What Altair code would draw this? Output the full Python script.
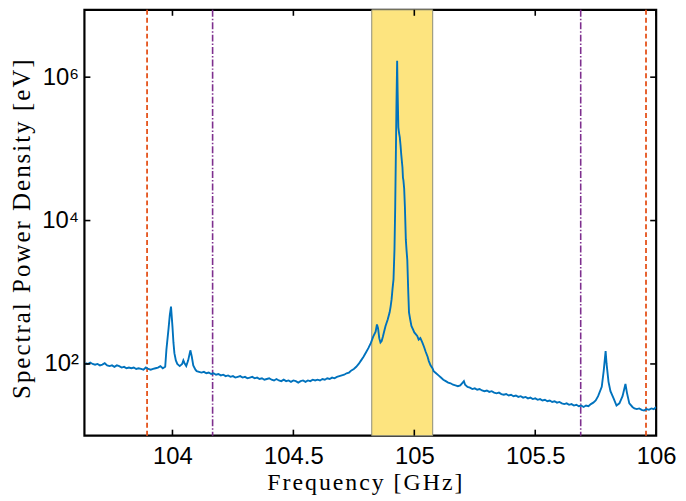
import altair as alt
import pandas as pd

# ---- spectrum (frequency in GHz, log10 of spectral power density in eV) ----
freq_ghz = [
    103.64, 103.65, 103.66, 103.67, 103.68, 103.69, 103.70, 103.71, 103.72, 103.73,
    103.74, 103.75, 103.76, 103.77, 103.78, 103.79, 103.80, 103.81, 103.82, 103.83,
    103.84, 103.85, 103.86, 103.87, 103.88, 103.89, 103.90, 103.91, 103.92, 103.93,
    103.94, 103.95, 103.96, 103.97,
    103.975, 103.984, 103.989, 103.994, 104.000, 104.004, 104.008, 104.014, 104.020, 104.030,
    104.040, 104.045, 104.050, 104.057, 104.065, 104.074, 104.080, 104.086, 104.095,
    104.10, 104.11, 104.12, 104.13, 104.14, 104.15, 104.16, 104.17, 104.18, 104.19,
    104.20, 104.21, 104.22, 104.23, 104.24, 104.25, 104.26, 104.27, 104.28, 104.29,
    104.30, 104.31, 104.32, 104.33, 104.34, 104.35, 104.36, 104.37, 104.38, 104.39,
    104.40, 104.41, 104.42, 104.43, 104.44, 104.45, 104.46, 104.47, 104.48, 104.49,
    104.50, 104.51, 104.52, 104.53, 104.54, 104.55, 104.56, 104.57, 104.58, 104.59,
    104.60, 104.61, 104.62, 104.63, 104.64, 104.65, 104.66, 104.67, 104.68, 104.69,
    104.70, 104.71, 104.72, 104.73, 104.74, 104.75, 104.76, 104.77,
    104.78, 104.79, 104.80, 104.81, 104.82, 104.83, 104.84, 104.8455, 104.85, 104.855,
    104.86, 104.865, 104.87, 104.875, 104.881, 104.89, 104.898, 104.902, 104.906, 104.91,
    104.914, 104.918, 104.921, 104.924, 104.926, 104.929, 104.931, 104.934, 104.937, 104.940,
    104.943, 104.946, 104.951, 104.953, 104.955, 104.958, 104.961, 104.965, 104.968, 104.971,
    104.975, 104.978, 104.983, 104.988, 104.995, 105.000, 105.005, 105.012, 105.018, 105.025,
    105.033, 105.040, 105.047, 105.055, 105.060, 105.067, 105.075, 105.080, 105.090,
    105.10, 105.11, 105.12, 105.13, 105.14, 105.15, 105.16, 105.17, 105.18, 105.19,
    105.20, 105.205, 105.21, 105.22, 105.23, 105.24, 105.25, 105.26, 105.27, 105.28, 105.29,
    105.30, 105.31, 105.32, 105.33, 105.34, 105.35, 105.36, 105.37, 105.38, 105.39,
    105.40, 105.41, 105.42, 105.43, 105.44, 105.45, 105.46, 105.47, 105.48, 105.49,
    105.50, 105.51, 105.52, 105.53, 105.54, 105.55, 105.56, 105.57, 105.58, 105.59,
    105.60, 105.61, 105.62, 105.63, 105.64, 105.65, 105.66, 105.67, 105.68, 105.69,
    105.70, 105.71, 105.72, 105.73, 105.74,
    105.75, 105.76, 105.775, 105.783, 105.791, 105.795, 105.803, 105.811, 105.824, 105.836,
    105.848, 105.861, 105.873, 105.879, 105.889, 105.902, 105.91, 105.92, 105.93, 105.94,
    105.95, 105.96, 105.97, 105.98, 105.99, 106.00,
]
log10_psd = [
    2.01, 2.00, 2.02, 2.00, 1.99, 2.00, 1.98, 1.99, 2.01, 1.98,
    1.97, 1.98, 1.96, 1.98, 1.97, 1.95, 1.96, 1.94, 1.95, 1.94,
    1.95, 1.93, 1.94, 1.93, 1.92, 1.95, 1.93, 1.92, 1.93, 1.94,
    1.95, 1.97, 1.94, 1.96,
    2.20, 2.50, 2.68, 2.80, 2.52, 2.30, 2.15, 2.05, 2.00, 1.97,
    2.00, 2.05, 2.01, 1.97, 2.05, 2.19, 2.10, 1.98, 1.92,
    1.90, 1.89, 1.88, 1.89, 1.87, 1.88, 1.86, 1.87, 1.85, 1.86,
    1.84, 1.85, 1.83, 1.84, 1.82, 1.83, 1.81, 1.82, 1.83, 1.81,
    1.82, 1.80, 1.81, 1.82, 1.80, 1.81, 1.79, 1.80, 1.78, 1.79,
    1.80, 1.78, 1.77, 1.79, 1.77, 1.76, 1.78, 1.76, 1.77, 1.75,
    1.77, 1.76, 1.74, 1.76, 1.77, 1.75, 1.77, 1.76, 1.78, 1.77,
    1.78, 1.77, 1.79, 1.78, 1.80, 1.79, 1.81, 1.80, 1.82, 1.83,
    1.84, 1.85, 1.87, 1.88, 1.91, 1.93, 1.96, 2.00,
    2.05, 2.10, 2.16, 2.22, 2.29, 2.38, 2.45, 2.55, 2.50, 2.36,
    2.30, 2.32, 2.38, 2.45, 2.53, 2.62, 2.72, 2.80, 2.90, 3.05,
    3.18, 3.60, 4.19, 5.00, 5.57, 6.23, 5.80, 5.30, 5.22, 5.16,
    5.05, 4.92, 4.74, 4.60, 4.56, 4.45, 4.20, 3.73, 3.58, 3.45,
    3.00, 2.72, 2.62, 2.53, 2.48, 2.44, 2.42, 2.39, 2.34, 2.36,
    2.30, 2.24, 2.17, 2.10, 2.04, 1.98, 1.94, 1.90, 1.87,
    1.84, 1.81, 1.78, 1.76, 1.74, 1.73, 1.71, 1.70, 1.69, 1.70,
    1.74, 1.76, 1.71, 1.68, 1.67, 1.65, 1.66, 1.64, 1.65, 1.63, 1.62,
    1.63, 1.61, 1.62, 1.60, 1.59, 1.60, 1.58, 1.57, 1.58, 1.56,
    1.57, 1.55, 1.56, 1.54, 1.55, 1.53, 1.54, 1.52, 1.53, 1.51,
    1.52, 1.50, 1.51, 1.49, 1.50, 1.48, 1.49, 1.47, 1.48, 1.46,
    1.47, 1.45, 1.44, 1.45, 1.43, 1.44, 1.42, 1.43, 1.41, 1.42,
    1.40, 1.42, 1.41, 1.44, 1.46,
    1.49, 1.55, 1.68, 1.90, 2.18, 2.00, 1.75, 1.62, 1.52, 1.42,
    1.45, 1.55, 1.72, 1.60, 1.45, 1.40, 1.38, 1.37, 1.38, 1.36,
    1.35, 1.37, 1.36, 1.38, 1.37, 1.40,
]

band_ghz = [104.824, 105.076]
orange_lines_ghz = [103.895, 105.958]
purple_lines_ghz = [104.166, 105.688]
x_ticks = [104, 104.5, 105, 105.5, 106]
y_ticks = [1e2, 1e4, 1e6]

X_TITLE = "Frequency [GHz]"
Y_TITLE = "Spectral Power Density [eV]"


def spaced(text):
    # emulate the wide letter spacing of the original (hair spaces)
    return "\u200a".join(list(text))


W, H = 576, 429
X_DOMAIN = [103.636, 106.0]
Y_DOMAIN = [10, 8.7e6]

spec = pd.DataFrame({"f": freq_ghz, "p": [10 ** v for v in log10_psd]})
band_df = pd.DataFrame({"a": [band_ghz[0]], "b": [band_ghz[1]]})
orange_df = pd.DataFrame({"f": orange_lines_ghz})
purple_df = pd.DataFrame({"f": purple_lines_ghz})
xt_df = pd.DataFrame({"f": x_ticks})
yt_df = pd.DataFrame({"p": y_ticks})

xs = alt.Scale(domain=X_DOMAIN, nice=False, zero=False)
ys = alt.Scale(type="log", domain=Y_DOMAIN, nice=False)

x_axis = alt.Axis(
    title=spaced(X_TITLE), values=x_ticks, format="~g", ticks=False, domain=False,
    grid=False, labelFont="Liberation Sans", labelFontSize=24, labelColor="black",
    labelPadding=9, labelFlush=False, titleFont="Liberation Serif", titleFontSize=24,
    titleFontWeight="normal", titleColor="black", titleBaseline="middle", titleY=47,
    titleX=W / 2 - 6,
)
y_axis = alt.Axis(
    title=spaced(Y_TITLE), values=y_ticks,
    labelExpr="datum.value == 100 ? '10²' : (datum.value == 10000 ? '10⁴' : '10⁶')",
    ticks=False, domain=False, grid=False, labelFont="Liberation Sans",
    labelFontSize=24, labelColor="black", labelPadding=6, labelFlush=False,
    titleFont="Liberation Serif", titleFontSize=25, titleFontWeight="normal",
    titleColor="black", titleX=-50, titleY=H / 2 + 6, titleBaseline="bottom",
    titleAlign="center", titleAngle=270,
)

band = alt.Chart(band_df).mark_rect(
    color="#FDE47F", stroke="#8C8C78", strokeWidth=1
).encode(
    x=alt.X("a:Q", scale=xs, axis=x_axis), x2="b:Q",
    y=alt.value(0), y2=alt.value(H),
)

orange = alt.Chart(orange_df).mark_rule(
    color="#E5521A", strokeWidth=1.8, strokeDash=[5, 3]
).encode(x=alt.X("f:Q", scale=xs, axis=x_axis), y=alt.value(0), y2=alt.value(H))

purple = alt.Chart(purple_df).mark_rule(
    color="#7E2F8E", strokeWidth=1.6, strokeDash=[7, 2, 1.5, 2]
).encode(x=alt.X("f:Q", scale=xs, axis=x_axis), y=alt.value(0), y2=alt.value(H))

line = alt.Chart(spec).mark_line(
    color="#0072BD", strokeWidth=1.9, clip=True
).encode(
    x=alt.X("f:Q", scale=xs, axis=x_axis),
    y=alt.Y("p:Q", scale=ys, axis=y_axis),
)

tick_style = dict(color="black", strokeWidth=1.6)
xt_bottom = alt.Chart(xt_df).mark_rule(**tick_style).encode(
    x=alt.X("f:Q", scale=xs, axis=x_axis), y=alt.value(H), y2=alt.value(H - 6))
xt_top = alt.Chart(xt_df).mark_rule(**tick_style).encode(
    x=alt.X("f:Q", scale=xs, axis=x_axis), y=alt.value(0), y2=alt.value(6))
yt_left = alt.Chart(yt_df).mark_rule(**tick_style).encode(
    y=alt.Y("p:Q", scale=ys, axis=y_axis), x=alt.value(0), x2=alt.value(6))
yt_right = alt.Chart(yt_df).mark_rule(**tick_style).encode(
    y=alt.Y("p:Q", scale=ys, axis=y_axis), x=alt.value(W - 6), x2=alt.value(W))

chart = alt.layer(
    band, orange, purple, line, xt_bottom, xt_top, yt_left, yt_right
).properties(
    width=W, height=H,
    autosize=alt.AutoSizeParams(type="none"),
    padding={"left": 77, "top": 0, "right": 22, "bottom": 62},
    background="white",
).configure_view(stroke="black", strokeWidth=2.2)

chart.save("out.html", embed_options={"renderer": "svg", "actions": False})
